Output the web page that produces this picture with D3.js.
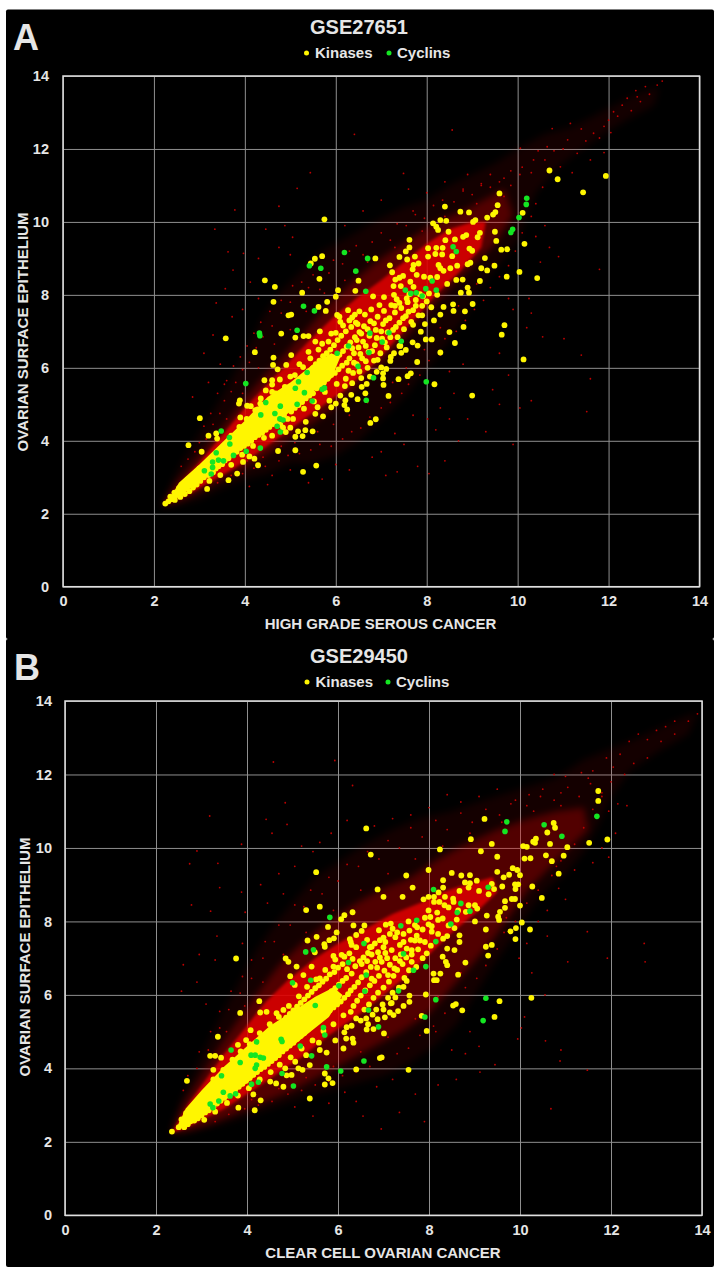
<!DOCTYPE html>
<html>
<head>
<meta charset="utf-8">
<script src="https://d3js.org/d3.v7.min.js"></script>
<style>
  html, body { margin: 0; padding: 0; background: #fff; }
  svg { display: block; }
  text { font-family: "Liberation Sans", Arial, sans-serif; font-weight: bold; fill: #e6e6e6; }
</style>
</head>
<body>
<script>
// values, [x, y] in log2 expression units
var tickValues = [0, 2, 4, 6, 8, 10, 12, 14];
var legendLabels = ["Kinases", "Cyclins"];

var kinasesA = [
 [5.75,10.07],[5.70,9.06],[5.54,8.99],[5.45,8.86],[4.44,8.40],[4.66,8.22],[5.64,8.44],[5.26,8.06],[4.63,7.81],[6.05,8.13],[6.00,7.95],[6.43,8.11],[6.50,8.39],[5.81,7.81],[5.62,7.67],[5.78,7.56],[4.96,7.44],[5.02,7.46],[6.03,7.45],[6.27,7.58],[6.08,7.40],[6.42,7.46],[6.52,7.55],[6.36,7.38],
 [10.70,11.41],[10.88,11.17],[11.94,11.26],[11.44,10.81],[9.60,10.78],[9.56,10.46],[9.51,10.27],[9.46,10.20],[10.11,10.25],[8.40,10.42],[8.74,10.28],[8.93,10.26],[9.07,10.05],[9.02,10.00],[9.33,10.12],[8.30,10.05],[8.14,9.96],[8.21,9.87],[8.25,9.78],[8.43,10.03],[8.48,9.73],[8.87,9.64],[8.80,9.59],[9.17,9.70],[9.12,9.58],[9.50,9.73],[9.53,9.48],[10.15,9.40],[8.41,9.50],[8.62,9.52],[7.62,9.51],[7.62,9.30],[7.54,9.19],[7.40,9.04],[6.87,9.00],[8.03,9.28],[8.21,9.29],[8.35,9.29],[8.03,9.05],[8.19,9.12],[8.34,9.11],[8.56,9.06],[8.94,9.27],[9.00,9.21],[9.64,9.24],[9.77,9.25],[9.28,9.01],[8.96,8.88],[8.90,8.84],[9.20,8.73],[9.33,8.67],[9.49,8.80],[9.76,8.50],[10.04,8.63],[10.43,8.46],[9.17,8.38],[8.67,8.80],[8.52,8.73],[8.37,8.66],[8.26,8.82],[8.30,8.73],[7.74,9.05],[7.57,8.97],[7.82,8.86],[7.71,8.82],[7.69,8.70],[7.19,8.81],[7.24,8.62],[7.31,8.42],[7.48,8.52],[7.40,8.47],[7.78,8.55],[8.23,8.49],[8.08,8.47],[7.94,8.50],[8.45,8.30],[8.65,8.41],[8.79,8.42],[8.90,8.20],[8.93,8.06],[8.75,8.06],[9.01,7.75],[8.58,7.74],[8.37,7.67],[8.59,7.56],[8.84,7.55],[7.27,8.24],[7.43,8.24],[7.71,8.22],[7.64,8.36],[8.05,8.04],[8.23,8.00],[7.85,8.02],
 [9.71,7.17],[9.65,6.91],[10.13,6.23],[8.81,7.12],[8.50,6.98],[8.62,6.68],[8.30,6.42],[7.98,6.78],[8.11,6.78],[7.87,6.99],[7.69,6.70],[7.80,6.61],[7.42,6.60],[7.54,6.49],[7.44,6.41],[7.21,6.30],[7.20,6.19],[7.79,6.16],[7.65,5.85],[7.58,5.77],[7.38,5.69],[8.17,5.55],[9.00,5.24],[7.11,5.97],[7.00,6.01],[6.90,5.89],[7.04,5.85],[7.04,5.71],[7.05,5.53],[7.16,5.23],[6.65,5.30],[6.88,4.59],[6.76,4.49],[6.57,5.48],[6.75,5.76],
 [3.58,6.81],[4.22,6.43],[4.80,6.94],[5.11,6.83],[5.29,6.87],[5.40,6.87],[5.55,6.72],[5.65,7.00],[4.63,6.28],[5.02,6.35],[4.62,6.08],[4.72,5.96],[4.91,6.08],[4.43,5.66],[4.60,5.66],[4.77,5.68],[4.60,5.54],[4.46,5.38],[4.60,5.34],[3.89,5.11],[3.87,5.02],[4.05,4.96],[4.13,4.95],[4.35,5.16],[4.34,5.02],[4.23,4.84],[3.01,4.62],[3.90,4.64],[3.20,4.14],[3.37,4.20],[3.39,4.06],[2.76,3.88],[3.05,3.70],[3.96,3.42],[4.29,3.33],[4.10,3.57],[4.21,3.51],[3.83,3.10],[3.64,2.92],[3.17,2.68],[4.73,3.72],[5.11,3.74],[5.28,3.15],[5.57,3.32],[5.11,4.11],[5.27,4.13],[5.49,4.26],[5.17,4.26],[5.33,4.29],[5.72,4.67],[5.55,4.74],[6.19,4.98],[6.25,4.86],[6.21,5.11],[6.48,5.14],[6.00,5.02],
 // along the ridge
 [2.25,2.28],[2.32,2.34],[2.40,2.40],[2.36,2.47],[2.46,2.38],[2.52,2.52],[2.45,2.58],[2.58,2.46],[2.62,2.62],[2.55,2.70],[2.68,2.54],[2.72,2.72],[2.65,2.82],[2.78,2.62],[2.80,2.84],[2.74,2.94],[2.86,2.72],[2.90,2.92],[2.84,3.02],[2.94,2.80],[2.98,3.02],[2.93,3.14],[3.02,2.90],[3.06,3.12],[3.00,3.24],[3.10,3.00],[3.15,3.20],[3.09,3.30],[3.20,3.06],[3.24,3.28],[3.18,3.40],[3.30,3.14],[3.32,3.38],[3.36,3.24],[3.27,3.50],[3.42,3.30],[3.42,3.50],[3.36,3.62],[3.50,3.36],[3.50,3.60],[3.46,3.72],[3.56,3.46],[3.60,3.68],[3.56,3.82],[3.64,3.52],[3.68,3.78],[3.64,3.92],[3.72,3.62],[3.76,3.86],[3.72,4.00],[3.82,3.70],[3.84,3.94],[3.80,4.08],[3.90,3.80],[3.92,4.04],[3.88,4.18],[3.98,3.86],[4.00,4.12],[3.96,4.26],[4.06,3.92],[4.08,4.20],[4.06,4.36],[4.14,4.00],[4.16,4.28],[4.12,4.46],[4.22,4.10],[4.24,4.34],[4.20,4.54],[4.30,4.16],[4.32,4.44],[4.28,4.62],[4.38,4.22],[4.40,4.52],[4.38,4.72],[4.46,4.30],[4.48,4.60],[4.46,4.80],[4.54,4.38],[4.56,4.66],[4.52,4.90],[4.62,4.46],[4.64,4.74],[4.62,4.98],[4.70,4.54],[4.72,4.82],[4.70,5.06],[4.78,4.44],[4.80,4.92],[4.78,5.14],[4.86,4.70],[4.88,5.00],[4.86,5.24],[4.94,4.60],[4.96,5.10],[4.92,5.34],[5.02,4.80],[5.04,5.14],[5.00,5.42],[5.10,4.90],[5.12,5.24],[5.08,5.50],[5.18,4.98],[5.20,5.30],[5.16,5.60],[5.26,5.06],[5.28,5.40],[5.24,5.70],[5.34,5.16],[5.36,5.48],[5.32,5.80],[5.42,5.24],[5.44,5.58],[5.40,5.90],[5.50,5.30],[5.52,5.66],[5.50,6.00],[5.58,5.44],[5.60,5.76],[5.56,6.10],[5.66,5.50],[5.68,5.86],[5.64,6.20],[5.74,5.60],[5.76,5.96],[5.72,6.32],[5.82,5.70],[5.84,6.06],[5.80,6.40],[5.90,5.80],[5.92,6.16],[5.88,6.50],[5.98,5.86],[6.00,6.26],[5.96,6.62],
 [3.22,2.90],[3.46,3.06],[3.70,3.34],[3.94,3.62],[4.18,3.86],[4.42,4.08],[4.60,4.14],[4.84,4.36],[5.06,4.60],[5.30,4.88],[5.52,5.08],[5.76,5.34],[6.02,5.56],[6.28,5.92],[3.70,4.14],[3.88,4.38],[4.04,4.60],[4.28,4.86],[4.46,5.02],[4.68,5.30],[4.88,5.48],[5.10,5.80],[5.28,6.02],[5.44,6.26],[5.62,6.50],[5.84,6.72],[6.00,6.96],[6.16,7.16],
 // lace above the ridge
 [6.06,5.96],[6.08,6.36],[6.04,6.76],[6.14,6.06],[6.16,6.46],[6.12,6.88],[6.22,5.70],[6.24,6.14],[6.24,6.58],[6.22,7.00],[6.30,6.26],[6.32,6.70],[6.34,7.12],[6.38,5.86],[6.40,6.40],[6.42,6.84],[6.44,7.24],[6.46,6.10],[6.50,6.56],[6.52,6.98],[6.56,5.72],[6.58,6.26],[6.60,6.72],[6.62,7.14],[6.64,7.46],[6.70,6.00],[6.72,6.44],[6.74,6.88],[6.76,7.28],[6.78,7.60],[6.84,6.20],[6.86,6.62],[6.88,7.04],[6.92,7.40],[6.96,7.72],[6.98,6.40],[7.02,6.80],[7.04,7.20],[7.06,7.56],[7.12,6.56],[7.14,6.98],[7.18,7.36],[7.22,7.72],[7.26,7.04],[7.30,7.52],[7.34,7.88],[7.36,6.84],[7.40,7.24],[7.44,7.64],[7.50,7.06],[7.54,7.42],[7.58,7.80],[7.62,8.02],[7.66,7.26],[7.70,7.58],[7.76,7.86],[7.82,7.44],[7.90,7.70],[7.92,7.96],[8.00,7.82],[7.28,8.00],[7.06,7.94],[6.82,7.96],
 [6.36,6.54],[6.46,6.76],[6.56,6.94],[6.66,6.60],[6.40,6.14],[6.54,6.38],[6.66,6.18],[6.80,6.46],[6.90,6.82],[6.48,7.20],[6.70,7.06],[6.84,7.22],[7.00,7.00],[7.10,7.30],[7.20,6.84],[7.32,7.12],[7.08,6.70],[6.92,6.22],[7.28,6.40],[7.40,6.60],[7.48,7.36],[7.60,7.54],[7.40,7.78],[7.56,7.90],[7.76,7.70],[7.90,7.44],[7.30,7.70],[6.10,7.26],[6.30,7.30],[6.20,5.50],[6.36,5.58],[6.52,5.90],[6.68,5.56],[5.86,5.10],[5.90,4.92],[6.10,5.24],[6.34,5.26],[5.60,4.92],[5.34,4.52],[5.00,4.36],[4.90,4.24],[5.00,5.76],[5.20,6.10],[5.40,6.44],[5.70,6.66],[5.90,6.94],[7.70,7.18],[7.96,7.20],[8.16,7.30],[8.10,7.66],[8.30,7.46]
];
var cyclinsA = [
 [6.19,9.16],[5.42,8.80],[5.67,8.73],[6.44,8.65],[5.29,7.69],[5.53,7.56],
 [10.20,10.65],[10.19,10.48],[10.03,10.12],[9.89,9.80],[9.85,9.71],[8.58,9.32],[8.65,9.19],[6.70,9.00],[6.66,8.10],[7.53,8.13],[7.65,8.04],[7.77,8.06],[7.90,7.97],[7.98,8.17],[8.12,8.38],[8.21,8.13],
 [4.32,6.95],[4.33,6.88],[5.15,7.03],[4.02,5.57],[6.03,6.40],[6.28,6.60],[6.49,6.04],[5.37,5.87],[5.18,5.62],[5.11,5.44],[5.70,5.41],[5.75,5.45],[5.31,5.32],[5.48,5.09],[5.15,5.00],[4.78,4.95],[4.46,5.05],[4.66,4.75],[4.35,4.71],[4.77,4.60],[4.84,4.57],[4.71,4.40],[4.78,4.24],[3.48,4.27],[3.66,4.09],[3.67,3.91],[3.37,3.67],[3.75,3.60],[4.03,3.71],[4.34,3.80],[3.29,3.42],[3.42,3.47],[3.53,3.45],[3.29,3.27],[3.11,3.18],[3.26,3.09],
 [6.75,6.95],[7.17,6.96],[7.02,6.71],[7.44,6.73],[6.73,6.42],[6.83,5.73],[7.99,5.62],[6.67,5.11]
];
// single red probes
var probesA = [
 [6.41,12.40],[5.44,11.35],[5.15,10.92],[4.75,10.43],[3.78,10.33],[3.34,9.80],[4.46,9.80],[3.97,9.14],[3.63,9.18],[3.57,8.17],[3.74,8.68],[3.37,7.78],[4.88,9.90],[5.05,9.58],[4.30,9.00],[4.75,9.30],[5.00,9.10],[4.12,8.35],[4.30,7.90],[3.95,7.60],[3.72,7.40],[3.30,6.90],[3.10,6.40],[3.46,6.10],[3.20,5.60],[2.85,5.20],[3.55,5.55],
 [13.18,13.86],[13.07,13.75],[12.81,13.71],[12.63,13.43],[12.41,13.39],[12.30,13.20],[12.11,13.02],[12.20,12.90],[12.00,12.79],[11.90,12.62],[11.67,12.43],[11.16,12.70],[10.76,12.56],[10.65,12.06],[11.31,11.88],[10.06,12.02],[10.35,11.70],[10.94,11.51],[7.49,11.33],[8.56,12.52],[12.90,13.50],[12.70,13.30],[12.50,13.05],[12.05,12.45],[11.80,12.30],[11.50,12.22],[11.40,12.55],[11.10,12.25],[11.00,12.00],[10.80,11.95],[10.60,11.70],[10.45,11.95],[10.30,11.35],[10.10,11.50],[9.85,11.40],[9.70,11.20],[9.40,11.30],[9.20,11.00],[11.60,11.70],[11.90,11.90],[11.20,11.35],[12.60,13.60],
 [7.00,10.60],[6.60,10.30],[7.60,10.90],[8.00,10.80],[8.40,11.10],[8.90,11.30],[6.20,9.90],[7.70,10.30],[8.80,10.90],[10.60,9.90],[10.40,9.60],[10.70,9.30],[10.50,8.90],[10.90,9.05],[11.80,8.70],[10.25,7.90],[9.80,7.90],[10.30,7.50],[10.20,7.10],[9.90,7.60],[10.55,6.85],[11.02,6.80],[11.40,6.35],[11.60,5.70],[11.52,4.80],[10.30,5.10],[10.05,4.90],[9.45,5.40],[9.80,5.80],[9.60,6.40],[8.80,6.10],[8.50,5.90],[8.60,5.30],[8.30,4.90],[8.50,4.60],[8.20,4.30],[8.02,4.60],[7.70,4.70],[7.30,4.20],[7.50,3.90],[7.80,3.30],[7.10,3.05],[6.80,3.55],[6.30,3.20],[6.00,3.35],[5.70,2.95],[7.00,3.70],[7.35,3.15],[8.05,3.10],[8.40,3.45],[8.90,4.60],[9.30,4.25],[9.90,3.90],[9.60,5.00],[8.70,4.00],[5.00,3.20],[5.40,2.85],[4.50,2.80],[4.60,3.05],[4.10,2.75],
 [2.60,3.30],[2.75,3.50],[2.90,3.70],[3.00,3.95],[3.15,4.05],[3.10,4.40],[3.30,4.45],[3.25,4.75],[3.45,4.75],[3.55,5.10],[3.40,5.30],[3.70,5.35],[3.60,5.65],[3.80,5.60],[3.75,6.05],[3.95,5.95],[3.90,6.30],[4.10,6.15],[4.05,6.60],[4.25,6.55],[4.20,6.95],[4.40,6.85],[4.35,7.25],[4.60,7.15],[4.55,7.55],[4.80,7.50],[4.80,7.85],[5.00,7.80],[5.05,8.25],[5.25,8.35],[5.40,8.20],[5.50,8.55],[5.65,8.15],[5.85,8.60],[5.95,8.95],[6.15,8.85],[6.30,9.20],[6.45,9.35],[6.60,9.10],[6.80,9.45],[7.00,9.70],[7.20,9.50],[7.35,9.95],[7.55,9.90],[7.75,10.20],[7.95,10.10],[8.15,10.45],[8.35,10.60],[8.60,10.55],[8.80,10.85],[9.00,10.75],[9.20,11.05],[9.40,10.95],[9.60,11.10],[9.85,11.00],[10.05,11.30],
 [3.40,2.85],[3.70,3.05],[3.95,3.10],[4.20,3.25],[4.45,3.30],[4.75,3.45],[4.95,3.60],[5.20,3.65],[5.45,3.75],[5.65,3.90],[5.90,3.85],[6.15,4.05],[6.35,4.25],[6.55,4.35],[6.75,4.65],[7.00,4.90],[7.20,5.05],[7.45,5.30],[7.60,5.55],[7.85,5.80],[8.05,6.20],[8.30,6.35],[8.40,6.80],[8.65,7.00],[8.85,7.30],[9.05,7.60],[9.25,7.85],[9.40,8.20],[9.60,8.50],[9.80,8.80],[9.95,9.20],[10.10,9.70],[10.30,10.15],[10.40,10.50],[10.55,10.95],
 [4.05,3.45],[4.40,3.55],[4.80,3.85],[5.10,3.95],[5.60,4.25],[5.95,4.45],[6.30,4.70],[6.70,5.05],[7.25,5.60],[7.55,6.00],[7.95,6.50],[8.30,7.10],[8.70,7.70],[9.10,8.30],[9.45,8.85],[3.60,4.60],[3.95,5.30],[4.30,6.00],[4.65,6.65],[5.00,7.05],[5.35,7.55],[5.75,8.05],[6.20,8.40],[6.70,8.90],[7.30,9.30],[7.90,9.75],[8.40,10.15],[9.10,10.50],[9.70,10.70]
];
var hazeOuterA = [[2.2,2.3],[2.4,2.9],[2.7,3.6],[3,4.2],[3.4,5],[3.8,5.9],[4.1,6.6],[4.4,7.4],[4.8,8.1],[5.2,8.6],[5.7,9.2],[6.3,9.6],[7,10.1],[7.5,10.4],[8,10.6],[8.5,11],[9,11.3],[9.5,11.6],[10,12],[10.6,12.4],[11.2,12.6],[12,13.1],[12.6,13.5],[13.1,13.7],[13,13.2],[12.4,12.8],[12,12.5],[11.3,11.9],[10.8,11.4],[10.4,10.8],[10.2,10.2],[10,9.5],[9.7,9],[9.2,8.3],[8.9,7.5],[8.4,6.6],[8,6],[7.5,5.2],[7,4.6],[6.5,4],[6,3.6],[5.5,3.4],[5,3.4],[4.5,3.1],[4,2.95],[3.5,2.7],[3,2.4],[2.6,2.25],[2.2,2.2]];
var hazeMidA = [[2.2,2.25],[2.5,2.85],[2.9,3.45],[3.4,4.2],[3.9,5],[4.4,5.75],[4.9,6.4],[5.4,7.1],[5.9,7.8],[6.4,8.4],[7,9],[7.6,9.5],[8.2,10],[8.8,10.3],[9.4,10.7],[9.7,10.9],[9.9,10.2],[9.5,9.4],[9,8.8],[8.5,8.2],[8,7.5],[7.5,6.8],[7,6.1],[6.5,5.5],[6,4.95],[5.5,4.5],[5,4.1],[4.5,3.65],[4,3.25],[3.5,2.95],[3,2.62],[2.6,2.38],[2.25,2.22]];
var hazeCoreA = [[2.2,2.25],[2.6,2.85],[3,3.4],[3.5,4.15],[4,4.9],[4.5,5.55],[5,6.2],[5.5,6.85],[6,7.45],[6.5,7.95],[7,8.4],[7.5,8.9],[8,9.4],[8.5,9.8],[9,10],[9.3,10],[9.2,9.3],[8.7,8.6],[8.2,8],[7.7,7.3],[7.2,6.6],[6.7,5.95],[6.2,5.4],[5.7,4.95],[5.2,4.5],[4.7,4.05],[4.2,3.6],[3.7,3.2],[3.2,2.85],[2.7,2.5]];
// where the kinase dots merge into one solid yellow mass
var kinaseMassA = [[2.3,2.3],[2.55,2.85],[3,3.35],[3.5,3.95],[4,4.55],[4.5,5.2],[5,5.6],[5.5,6.1],[5.9,6.4],[6.1,6.3],[5.9,5.7],[5.5,5.35],[5,4.8],[4.5,4.3],[4,3.85],[3.5,3.4],[3,2.9],[2.6,2.5]];

var kinasesB = [
 [5.52,9.34],[5.30,8.31],[5.60,8.40],[6.14,8.17],[6.07,8.06],[6.32,8.25],[6.34,7.89],[5.78,7.85],[5.97,7.70],[6.40,7.63],[6.26,7.52],[5.91,7.54],[5.81,7.49],[5.53,7.58],[5.33,7.48],[5.70,7.38],[5.71,7.31],[6.30,7.36],[5.49,7.16],[6.25,7.13],[5.90,7.06],[6.08,7.09],[3.76,6.99],[4.85,6.99],[6.28,7.44],[6.32,6.98],
 [11.72,11.55],[11.72,11.28],[11.92,10.23],[11.52,10.14],[10.74,10.68],[10.77,10.55],[10.60,10.42],[10.66,10.11],[11.04,10.02],[10.96,9.79],[10.57,9.80],[10.70,9.64],[10.85,9.30],[10.35,10.25],[10.29,10.17],[10.33,10.14],[10.07,10.05],[10.15,10.03],[10.10,9.71],[10.23,9.72],[9.22,10.79],[8.92,10.24],[9.38,10.11],[9.14,9.91],[9.50,9.76],[8.24,9.96],[6.62,10.53],[6.72,9.82],[7.99,9.40],[7.50,9.25],[8.50,9.32],[8.71,9.25],[8.90,9.26],[9.05,9.11],[9.50,9.35],[9.64,9.20],[9.76,9.27],[9.84,9.45],[9.94,9.40],[10.00,9.26],[9.89,9.01],[9.96,9.01],[9.90,8.88],[9.61,8.95],[10.27,8.95],[10.48,8.64],[10.00,8.43],[9.89,8.61],[9.82,8.61],[9.67,8.55],[9.67,8.37],[9.56,8.26],[9.52,8.13],[9.54,8.04],[10.04,7.97],[10.22,7.78],[9.91,7.82],[9.79,7.73],[9.90,7.52],[9.38,7.36],[9.25,7.31],[9.30,7.07],[9.25,7.78],[9.27,8.16],[9.01,8.00],[8.79,9.06],[8.90,9.04],[9.38,9.02],[9.43,8.88],[9.31,8.74],[9.10,8.83],[8.67,8.83],[8.87,8.92],[8.31,9.12],[8.31,8.92],[8.21,8.79],[7.64,8.92],[7.42,8.67],[6.87,8.87],[7.00,8.67],[7.88,8.60],[7.99,8.67],[8.11,8.67],[8.11,8.53],[8.23,8.53],[8.35,8.67],[8.53,8.62],[8.34,8.44],[8.43,8.38],[8.54,8.53],[9.01,8.44],[9.06,8.35],[8.81,8.26],[8.64,8.30],[8.87,8.44],[8.61,8.05],[8.43,7.89],[8.56,7.82],[8.67,7.62],[8.67,7.44],[8.31,7.53],[8.40,7.26],[8.56,7.22],[7.99,8.30],[8.03,8.12],[8.18,8.24],[8.20,8.04],[8.30,8.08],[7.91,8.10],[7.99,7.92],[8.06,7.87],[7.55,8.00],[7.69,7.90],[7.16,7.94],[7.05,7.91],[6.58,7.89],[7.14,7.66],[7.26,7.57],[7.44,7.66],[7.57,7.75],[7.73,7.61],[7.80,7.48],[7.91,7.44],[7.69,7.48],[7.44,7.44],[7.51,7.26],[7.62,7.22],[7.36,7.36],[7.04,7.44],[6.92,7.49],[6.81,7.40],[6.74,7.31],[7.18,7.22],[7.95,7.13],[6.52,7.74],
 [9.55,5.83],[10.25,5.92],[9.44,5.40],[8.80,6.88],[8.64,6.55],[8.37,6.90],[8.40,6.81],[8.10,6.58],[8.25,6.58],[8.11,6.40],[8.17,6.40],[7.93,6.01],[7.57,5.98],[7.57,5.81],[8.59,5.75],[8.53,5.71],[8.73,5.58],[7.84,5.43],[7.95,5.02],[7.55,3.96],[6.96,4.30],[6.92,4.28],[7.01,4.95],[6.78,5.07],[6.63,5.06],[7.03,5.39],[6.87,5.34],[7.22,5.45],[7.14,5.52],[7.26,5.93],[7.16,5.77],[7.44,6.22],[7.51,6.38],[7.62,6.90],[7.56,6.67],
 [2.35,2.28],[2.56,2.61],[2.68,3.66],[3.36,4.86],[3.85,5.51],[4.27,5.83],[4.29,5.52],[4.43,5.54],[4.65,5.50],[4.80,5.59],[4.08,5.04],[3.98,4.77],[3.80,4.64],[3.19,4.34],[3.30,4.34],[3.43,4.29],[3.26,3.96],[3.81,2.93],[4.17,2.86],[4.30,3.13],[4.14,3.29],[3.85,4.23],[4.51,3.64],[4.64,3.59],[4.80,3.50],[4.87,3.81],[4.98,3.82],[5.38,3.18],[5.13,4.00],[5.22,3.96],[5.38,4.09],[5.71,3.86],[5.79,3.73],[5.71,3.56],[5.88,3.60],[6.40,3.97],[6.12,4.54],[6.18,4.81],[6.32,4.81],[6.19,5.12],[5.60,4.50],[5.75,4.43],[4.95,6.51],[5.05,6.27],[5.24,6.54],[5.42,6.77],[5.60,6.45],[4.91,6.90],[5.09,6.77],[5.90,6.77],
 // along the ridge
 [2.50,2.40],[2.56,2.48],[2.62,2.40],[2.64,2.58],[2.70,2.48],[2.70,2.68],[2.76,2.56],[2.66,2.78],[2.80,2.70],[2.84,2.58],[2.76,2.86],[2.88,2.78],[2.92,2.64],[2.84,2.96],[2.96,2.86],[3.00,2.72],[2.92,3.06],[3.04,2.94],[3.08,2.80],[3.00,3.16],[3.12,3.02],[3.16,2.86],[3.08,3.26],[3.20,3.12],[3.26,2.94],[3.16,3.36],[3.30,3.20],[3.34,3.04],[3.24,3.46],[3.38,3.28],[3.42,3.12],[3.32,3.56],[3.46,3.38],[3.50,3.20],[3.40,3.66],[3.54,3.46],[3.58,3.26],[3.48,3.76],[3.62,3.56],[3.66,3.34],[3.56,3.86],[3.70,3.66],[3.74,3.42],[3.64,3.96],[3.78,3.74],[3.82,3.50],[3.72,4.06],[3.86,3.82],[3.90,3.58],[3.80,4.14],[3.94,3.90],[3.98,3.66],[3.90,4.24],[4.02,4.00],[4.06,3.74],[3.98,4.34],[4.10,4.08],[4.14,3.82],[4.06,4.44],[4.18,4.16],[4.22,3.90],[4.14,4.54],[4.26,4.26],[4.30,3.98],[4.22,4.62],[4.34,4.34],[4.38,4.04],[4.30,4.72],[4.42,4.44],[4.46,4.12],[4.38,4.82],[4.50,4.52],[4.54,4.20],[4.46,4.92],[4.58,4.60],[4.62,4.28],[4.54,5.00],[4.66,4.70],[4.70,4.36],[4.62,5.10],[4.74,4.78],[4.78,4.46],[4.70,5.20],[4.82,4.88],[4.86,4.54],[4.78,5.28],[4.90,4.96],[4.94,4.62],[4.86,5.38],[4.98,5.06],[5.02,4.70],[4.94,5.48],[5.06,5.14],[5.10,4.80],[5.02,5.58],[5.14,5.24],[5.18,4.88],[5.10,5.68],[5.22,5.32],[5.26,4.96],[5.18,5.78],[5.30,5.42],[5.34,5.06],[5.26,5.88],[5.38,5.52],[5.42,5.14],[5.34,5.98],[5.46,5.60],[5.50,5.24],[5.42,6.08],[5.54,5.70],[5.58,5.32],[5.50,6.18],[5.62,5.80],[5.66,5.40],[5.58,6.26],[5.70,5.90],[5.74,5.50],[5.66,6.36],[5.78,6.00],[5.82,5.58],[5.74,6.44],[5.86,6.10],[5.90,5.66],[5.82,6.56],[5.94,6.18],[5.98,5.74],
 [3.06,2.60],[3.30,2.82],[3.56,3.06],[3.80,3.26],[4.04,3.46],[4.28,3.70],[4.52,3.90],[4.72,4.10],[4.96,4.30],[5.20,4.54],[5.44,4.76],[5.68,5.02],[5.90,5.20],[6.12,5.44],[6.40,5.36],[6.62,5.36],[3.26,3.70],[3.48,3.96],[3.68,4.24],[3.86,4.46],[4.06,4.66],[4.28,4.96],[4.50,5.20],[4.70,5.40],[4.92,5.70],[5.14,5.96],[5.32,6.22],[5.52,6.42],[5.72,6.68],[5.94,6.96],[6.14,7.04],
 // lace above the ridge
 [5.92,6.62],[6.02,6.28],[6.06,5.82],[6.00,6.74],[6.10,6.38],[6.14,5.92],[6.10,6.84],[6.18,6.46],[6.22,6.02],[6.20,6.70],[6.28,5.54],[6.28,6.12],[6.30,6.58],[6.34,5.70],[6.36,6.22],[6.38,6.78],[6.42,5.84],[6.44,6.34],[6.48,6.92],[6.50,5.98],[6.52,6.48],[6.56,7.02],[6.58,5.60],[6.60,6.12],[6.62,6.62],[6.66,7.14],[6.68,5.74],[6.70,6.26],[6.72,6.76],[6.76,5.46],[6.78,5.92],[6.80,6.38],[6.82,6.90],[6.88,6.06],[6.90,6.52],[6.92,7.02],[6.98,5.74],[7.00,6.20],[7.02,6.66],[7.04,7.14],[7.10,5.92],[7.12,6.36],[7.14,6.82],[7.20,6.06],[7.22,6.52],[7.26,7.00],[7.30,6.68],[7.34,6.20],[7.38,7.10],[7.42,6.84],[7.46,6.46],[7.00,7.30],[6.88,7.16],
 [6.52,6.84],[6.64,6.92],[6.74,7.10],[6.96,6.90],[7.08,7.00],[6.86,6.74],[6.74,6.44],[7.10,6.54],[7.24,6.72],[7.36,6.92],[7.50,7.02],[7.62,7.10],[7.76,7.24],[7.86,7.00],[7.72,6.76],[8.04,7.34],[8.20,7.66],[8.06,7.72],[7.86,7.78],[7.74,7.84],[6.50,5.30],[6.66,5.20],[6.84,5.60],[7.00,5.60],[7.18,5.78],[7.32,5.56],[7.44,5.70],[6.30,5.16],[6.14,4.98],[5.94,4.76],[6.34,4.70],[5.58,4.70],[5.30,4.36],[5.06,4.18],[4.84,4.00],[7.30,7.70],[7.60,7.50],[7.20,7.80],[6.90,7.76],[6.64,7.50],[6.40,7.30],[6.70,7.30],[7.00,7.56],[8.40,7.60],[8.30,7.04]
];
var cyclinsB = [
 [5.82,8.11],[5.29,7.17],[5.46,7.23],
 [9.71,10.71],[9.67,10.45],[10.53,10.63],[10.92,10.32],[11.69,10.86],[9.30,8.93],[8.10,8.87],[8.70,8.49],[8.90,8.28],[8.62,8.24],[8.48,7.93],[7.73,8.03],[7.38,7.88],[8.15,7.45],[6.57,7.40],[7.44,7.12],
 [3.65,4.50],[3.85,4.16],[3.44,3.80],[4.09,4.36],[4.18,4.36],[4.21,4.72],[4.29,4.30],[4.36,4.28],[4.21,4.09],[4.18,4.00],[4.75,4.79],[4.77,4.73],[5.17,4.61],[5.42,4.34],[4.77,3.86],[5.02,3.52],[5.75,4.04],[6.06,3.93],[4.10,3.57],[4.25,3.62],[3.48,3.35],[3.75,3.31],[3.63,3.25],[3.38,3.11],[3.19,3.03],[3.25,2.93],[5.00,6.33],[5.40,6.40],[6.02,6.25],[5.50,5.71],[5.68,5.11],[5.71,4.91],[6.23,6.88],
 [9.25,5.91],[9.19,5.30],[8.15,5.87],[7.91,5.40],[7.93,6.77],[7.66,6.67],[7.33,6.11],[6.59,6.10],[6.62,6.54],[6.67,5.59],[6.89,5.13],[6.57,4.20]
];
var probesB = [
 [5.93,12.38],[4.58,12.34],[6.32,11.70],[4.84,11.23],[3.18,10.87],[4.42,10.78],[4.88,10.64],[4.55,10.40],[3.88,10.10],[2.90,9.92],[2.74,9.57],[3.36,9.58],[3.40,8.92],[2.78,8.45],[3.20,8.28],[3.96,8.25],[3.34,7.60],[3.90,7.40],[2.95,7.10],[3.30,6.95],[2.60,6.82],[2.56,6.10],[2.90,6.35],[3.10,5.75],[5.20,10.05],[5.60,10.15],[5.85,10.40],[6.20,10.75],[5.45,9.90],[5.05,9.50],[4.70,9.30],[4.30,9.00],[4.80,8.75],[4.45,8.50],[3.88,8.80],
 [13.90,13.65],[13.70,13.45],[13.40,13.45],[13.20,13.30],[13.00,13.20],[12.80,12.95],[12.60,13.10],[12.40,12.90],[12.20,12.55],[12.05,12.20],[11.90,12.45],[11.60,12.10],[11.35,12.05],[11.00,11.95],[10.75,12.00],[12.50,12.30],[12.80,12.45],[13.10,12.90],[13.40,13.10],[12.30,12.00],[12.00,11.80],[11.80,11.50],[12.15,11.20],[11.95,11.00],[11.55,11.75],[10.90,11.50],[10.50,11.60],[10.20,11.45],[9.90,11.30],[9.50,11.60],[9.10,11.40],[8.70,11.25],[8.40,11.45],[8.00,11.10],[7.60,10.90],[7.20,10.80],[6.80,10.60],[11.80,10.00],[11.95,9.75],[12.10,10.40],[12.35,11.15],
 [11.60,9.60],[11.20,9.40],[10.85,8.90],[11.00,8.60],[10.60,8.30],[10.40,8.00],[10.15,7.40],[10.60,7.60],[11.48,7.72],[11.92,7.00],[12.73,7.40],[12.75,6.90],[11.05,6.90],[9.98,7.00],[10.26,6.60],[10.55,6.00],[10.10,5.40],[9.95,4.80],[10.03,5.10],[10.56,4.75],[10.90,4.50],[10.88,4.20],[11.48,3.95],[10.68,2.90],[9.45,4.10],[9.12,3.90],[8.60,3.70],[8.20,3.55],[7.90,2.55],[7.35,2.80],[6.95,2.35],[6.55,2.70],[6.40,3.10],[6.15,3.35],[5.80,3.05],[5.45,2.70],[5.05,2.95],[7.70,3.30],[8.80,4.40],[9.10,4.60],[8.50,4.50],[8.15,5.00],[8.90,5.00],[6.85,3.50],[7.20,3.70],
 [2.60,3.40],[2.70,3.80],[2.90,4.00],[2.95,4.45],[3.15,4.50],[3.20,5.00],[3.40,5.10],[3.40,5.55],[3.60,5.60],[3.65,6.10],[3.85,6.05],[3.90,6.50],[4.10,6.45],[4.10,6.95],[4.35,7.00],[4.40,7.45],[4.60,7.45],[4.70,7.90],[4.95,7.90],[5.05,8.45],[5.25,8.40],[5.40,8.85],[5.65,8.75],[5.80,9.20],[6.00,9.10],[6.20,9.55],[6.45,9.50],[6.65,9.90],[6.90,9.70],[7.10,10.20],[7.35,10.00],[7.60,10.55],[7.85,10.30],[8.15,10.75],[8.40,10.50],[8.70,10.95],[8.95,10.70],[9.25,11.05],[9.55,10.90],[9.80,11.20],[10.15,11.15],[10.45,11.40],[10.75,11.30],[11.05,11.65],[11.30,11.40],[11.50,11.90],
 [3.30,2.55],[3.60,2.75],[3.95,2.90],[4.25,3.00],[4.55,3.10],[4.90,3.30],[5.20,3.40],[5.50,3.55],[5.80,3.65],[6.10,3.80],[6.40,3.90],[6.70,4.05],[7.00,4.25],[7.30,4.40],[7.55,4.55],[7.80,4.90],[8.10,5.15],[8.35,5.50],[8.60,5.75],[8.80,6.20],[9.05,6.45],[9.25,6.80],[9.50,7.25],[9.65,7.70],[9.90,8.00],[10.15,8.50],[10.40,8.85],[10.70,9.25],[10.90,9.65],[11.20,10.10],[11.40,10.55],[11.60,11.05],[11.80,11.40],
 [4.10,3.15],[4.70,3.45],[5.30,3.75],[5.90,4.05],[6.50,4.45],[7.10,4.85],[7.70,5.35],[8.20,5.95],[8.70,6.60],[9.20,7.30],[9.70,8.10],[10.30,8.90],[10.80,9.50],[3.55,5.00],[3.95,5.70],[4.35,6.35],[4.80,7.10],[5.30,7.70],[5.90,8.30],[6.50,8.85],[7.10,9.30],[7.70,9.70],[8.30,10.05],[8.90,10.40],[9.60,10.70],[10.30,11.00],[10.90,11.15]
];
var hazeOuterB = [[2.3,2.25],[2.5,3],[2.8,3.8],[3.1,4.6],[3.5,5.6],[3.9,6.5],[4.2,7.2],[4.6,7.9],[5,8.5],[5.5,9.2],[6,9.6],[6.6,10.1],[7.2,10.5],[7.8,10.8],[8.5,11],[9.2,11.3],[10,11.6],[10.8,11.9],[11.4,12.4],[12,12.7],[12.6,13],[13.3,13.4],[13.9,13.7],[13.7,13.1],[13,12.6],[12.4,12.1],[12,11.4],[11.7,10.6],[11.4,9.9],[11,9.3],[10.6,8.9],[10.2,8.3],[9.8,7.5],[9.4,6.8],[9,6],[8.6,5.2],[8.1,4.6],[7.5,4.1],[7,3.8],[6.4,3.6],[5.8,3.4],[5.2,3.2],[4.6,2.95],[4,2.7],[3.5,2.5],[3,2.35],[2.5,2.22]];
var hazeMidB = [[2.35,2.25],[2.6,3],[3,3.8],[3.4,4.6],[3.8,5.3],[4.2,6],[4.7,6.8],[5.2,7.4],[5.8,8],[6.4,8.5],[7,8.9],[7.6,9.2],[8.2,9.7],[8.8,10.1],[9.5,10.5],[10.2,10.8],[10.8,11],[11.4,11.1],[11.5,10.5],[11,9.9],[10.6,9.4],[10.2,8.9],[9.8,8.2],[9.4,7.5],[9,6.9],[8.5,6.2],[8,5.5],[7.4,5],[6.8,4.6],[6.2,4.2],[5.6,3.8],[5,3.4],[4.4,3.1],[3.8,2.8],[3.2,2.5],[2.7,2.3]];
var hazeCoreB = [[2.35,2.25],[2.7,3],[3.1,3.7],[3.5,4.4],[3.9,5],[4.4,5.8],[4.9,6.4],[5.5,7],[6,7.4],[6.6,7.8],[7.2,8.2],[7.8,8.5],[8.3,8.8],[8.8,9],[9.4,9.2],[9.5,8.8],[9,8.2],[8.5,7.7],[8,7.1],[7.5,6.5],[7,6],[6.4,5.4],[5.8,4.9],[5.2,4.3],[4.6,3.8],[4,3.3],[3.5,2.9],[3,2.6],[2.6,2.35]];
var kinaseMassB = [[2.45,2.35],[2.65,2.9],[3,3.4],[3.5,4.05],[4,4.6],[4.5,5.15],[5,5.55],[5.5,5.95],[5.9,6.2],[6.1,6],[5.8,5.4],[5.4,5],[5,4.6],[4.5,4.15],[4,3.6],[3.5,3.15],[3,2.7],[2.6,2.4]];

var svg = d3.select("body").append("svg").attr("width", 720).attr("height", 1274);

// soft edge for the density bands, the source is a slightly blurred bitmap
svg.append("filter").attr("id", "soft").append("feGaussianBlur").attr("stdDeviation", 1.5);
svg.append("filter").attr("id", "softer").append("feGaussianBlur").attr("stdDeviation", 3.5);

function drawPanel(p) {
  // black card behind the panel
  svg.append("rect").attr("x", 6).attr("y", p.cardTop).attr("width", 708).attr("height", p.cardBottom - p.cardTop)
    .attr("rx", 2).attr("fill", "#000");

  var x = d3.scaleLinear().domain([0, 14]).range([p.left, p.right]);
  var y = d3.scaleLinear().domain([0, 14]).range([p.bottom, p.top]);

  // grid, drawn with the axes so it sits under the points
  var gx = svg.append("g").attr("transform", "translate(0," + p.bottom + ")")
    .call(d3.axisBottom(x).tickValues(tickValues).tickSize(-(p.bottom - p.top)).tickPadding(9).tickFormat(d3.format("d")));
  var gy = svg.append("g").attr("transform", "translate(" + p.left + ",0)")
    .call(d3.axisLeft(y).tickValues(tickValues).tickSize(-(p.right - p.left)).tickPadding(p.yPad).tickFormat(d3.format("d")));
  [gx, gy].forEach(function(g) {
    g.select(".domain").remove();
    g.selectAll("line").attr("stroke", "#8f8f8f").attr("stroke-width", 1);
    g.selectAll("text").style("font-size", "14.5px").style("font-family", '"Liberation Sans", Arial, sans-serif').attr("fill", "#e6e6e6");
  });

  var band = d3.line().x(function(d) { return x(d[0]); }).y(function(d) { return y(d[1]); }).curve(d3.curveLinearClosed);
  var bands = [[p.hazeOuter, 0.09, "softer"], [p.hazeMid, 0.3, "softer"], [p.hazeCore, 0.85, "soft"]];
  bands.forEach(function(b) {
    svg.append("path").attr("d", band(b[0])).attr("fill", "#e00000").attr("fill-opacity", b[1]).attr("filter", "url(#" + b[2] + ")");
  });

  svg.append("g").selectAll("circle").data(p.probes).enter().append("circle")
    .attr("cx", function(d) { return x(d[0]); }).attr("cy", function(d) { return y(d[1]); })
    .attr("r", 0.9).attr("fill", "#c00000");

  svg.append("path").attr("d", band(p.kinaseMass)).attr("fill", "#fff600");
  svg.append("g").selectAll("circle").data(p.kinases).enter().append("circle")
    .attr("cx", function(d) { return x(d[0]); }).attr("cy", function(d) { return y(d[1]); })
    .attr("r", 2.9).attr("fill", "#fff600");
  svg.append("g").selectAll("circle").data(p.cyclins).enter().append("circle")
    .attr("cx", function(d) { return x(d[0]); }).attr("cy", function(d) { return y(d[1]); })
    .attr("r", 2.8).attr("fill", "#14e622");

  // frame on top of the grid ends
  svg.append("rect").attr("x", p.left).attr("y", p.top).attr("width", p.right - p.left).attr("height", p.bottom - p.top)
    .attr("fill", "none").attr("stroke", "#e0e0e0").attr("stroke-width", 1.5);

  svg.append("text").attr("x", p.letterX).attr("y", p.letterY).style("font-size", "36px").attr("fill", "#fff").text(p.letter);
  svg.append("text").attr("x", 359).attr("y", p.titleY).attr("text-anchor", "middle").style("font-size", "20px").text(p.title);

  // legend
  svg.append("circle").attr("cx", p.legendDots[0]).attr("cy", p.legendY - 5).attr("r", 2.5).attr("fill", "#fff600");
  svg.append("text").attr("x", p.legendDots[0] + 8.5).attr("y", p.legendY).style("font-size", "15px").text(legendLabels[0]);
  svg.append("circle").attr("cx", p.legendDots[1]).attr("cy", p.legendY - 5).attr("r", 2.5).attr("fill", "#14e622");
  svg.append("text").attr("x", p.legendDots[1] + 8).attr("y", p.legendY).style("font-size", "15px").text(legendLabels[1]);

  svg.append("text").attr("x", p.xTitleX).attr("y", p.xTitleY).attr("text-anchor", "middle").style("font-size", "15px").text(p.xTitle);
  svg.append("text").attr("transform", "translate(" + p.yTitleX + "," + p.yTitleY + ") rotate(-90)")
    .attr("text-anchor", "middle").style("font-size", "15px").text("OVARIAN SURFACE EPITHELIUM");
}

drawPanel({
  letter: "A", title: "GSE27651", xTitle: "HIGH GRADE SEROUS CANCER",
  cardTop: 9.5, cardBottom: 639,
  left: 63, right: 699.5, top: 76, bottom: 586.7, yPad: 14,
  letterX: 13, letterY: 50, titleY: 34, legendY: 58, legendDots: [306.5, 389],
  xTitleX: 380.5, xTitleY: 629, yTitleX: 28, yTitleY: 332,
  kinases: kinasesA, cyclins: cyclinsA, probes: probesA, kinaseMass: kinaseMassA,
  hazeOuter: hazeOuterA, hazeMid: hazeMidA, hazeCore: hazeCoreA
});
drawPanel({
  letter: "B", title: "GSE29450", xTitle: "CLEAR CELL OVARIAN CANCER",
  cardTop: 639, cardBottom: 1267,
  left: 65, right: 702, top: 701, bottom: 1215.3, yPad: 13,
  letterX: 14, letterY: 680, titleY: 663, legendY: 687, legendDots: [307, 388],
  xTitleX: 383, xTitleY: 1258, yTitleX: 30, yTitleY: 957,
  kinases: kinasesB, cyclins: cyclinsB, probes: probesB, kinaseMass: kinaseMassB,
  hazeOuter: hazeOuterB, hazeMid: hazeMidB, hazeCore: hazeCoreB
});
</script>
</body>
</html>
